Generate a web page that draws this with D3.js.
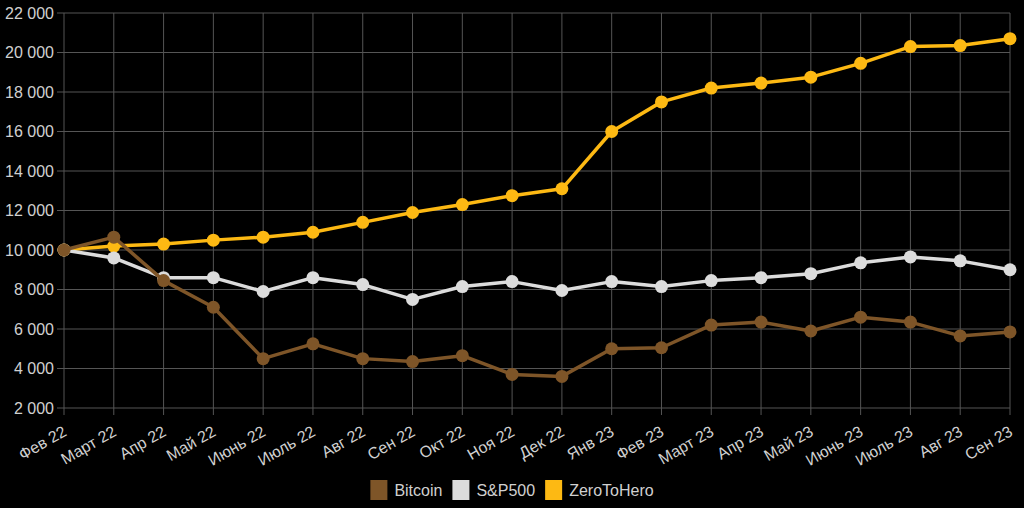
<!DOCTYPE html>
<html><head><meta charset="utf-8">
<script src="https://cdn.jsdelivr.net/npm/d3@7"></script>
<style>
html,body{margin:0;padding:0;background:#000;}
svg{display:block;font-family:"Liberation Sans",Arial,sans-serif;}
</style></head>
<body><svg id="c" width="1024" height="508"></svg>
<script>
const categories = ["Фев 22","Март 22","Апр 22","Май 22","Июнь 22","Июль 22","Авг 22","Сен 22","Окт 22","Ноя 22","Дек 22","Янв 23","Фев 23","Март 23","Апр 23","Май 23","Июнь 23","Июль 23","Авг 23","Сен 23"];
const bitcoin = [10000,10650,8450,7100,4500,5250,4500,4350,4650,3700,3600,5000,5050,6200,6350,5900,6600,6350,5650,5850];
const sp500 = [10000,9600,8600,8600,7900,8600,8250,7500,8150,8400,7950,8400,8150,8450,8600,8800,9350,9650,9450,9000];
const zeroToHero = [10000,10200,10300,10500,10650,10900,11400,11900,12300,12750,13100,16000,17500,18200,18450,18750,19450,20300,20350,20700];
const yTicks = [2000,4000,6000,8000,10000,12000,14000,16000,18000,20000,22000];
const seriesNames = ["Bitcoin","S&P500","ZeroToHero"];
const seriesColors = ["#7e5528","#dcdcdc","#fdb913"];

(function(){
const series = [bitcoin, sp500, zeroToHero];
const svg = d3.select("#c");
const mL = 64, mR = 1010, mT = 13, mB = 408;
const x = d3.scalePoint().domain(categories).range([mL, mR]);
const y = d3.scaleLinear().domain([2000, 22000]).range([mB, mT]);
const fmt = v => d3.format(",")(v).replace(/,/g, " ");
const gridColor = "#555";

svg.append("g").selectAll("line").data(yTicks).join("line")
  .attr("x1", mL - 7).attr("x2", mR)
  .attr("y1", d => y(d)).attr("y2", d => y(d))
  .attr("stroke", gridColor).attr("stroke-width", 1);
svg.append("g").selectAll("line").data(categories).join("line")
  .attr("x1", d => x(d)).attr("x2", d => x(d))
  .attr("y1", mT).attr("y2", mB + 7)
  .attr("stroke", gridColor).attr("stroke-width", 1);

svg.append("g").selectAll("text").data(yTicks).join("text")
  .attr("x", mL - 10).attr("y", d => y(d))
  .attr("text-anchor", "end").attr("dominant-baseline", "central")
  .attr("fill", "#d0d0d0").attr("font-size", 16)
  .text(fmt);

svg.append("g").selectAll("text").data(categories).join("text")
  .attr("transform", d => `translate(${x(d)-2},${mB + 17}) rotate(-30)`)
  .attr("text-anchor", "end").attr("dominant-baseline", "hanging")
  .attr("fill", "#d0d0d0").attr("font-size", 16)
  .text(d => d);

const line = d3.line().x((d, i) => x(categories[i])).y(d => y(d));
[2, 1, 0].forEach(k => {
  const s = series[k];
  const g = svg.append("g");
  g.append("path").datum(s).attr("d", line)
    .attr("fill", "none").attr("stroke", seriesColors[k]).attr("stroke-width", 3.5)
    .attr("stroke-linejoin", "round");
  g.selectAll("circle").data(s).join("circle")
    .attr("cx", (d, i) => x(categories[i])).attr("cy", d => y(d))
    .attr("r", 6.5).attr("fill", seriesColors[k]);
});

const items = [];
let cx = 0;
const tmp = svg.append("text").attr("font-size", 16);
seriesNames.forEach((n, i) => {
  tmp.text(n);
  const w = tmp.node().getComputedTextLength();
  items.push({n, c: seriesColors[i], x: cx, w});
  cx += 17 + 7 + w + 10;
});
tmp.remove();
const totalW = cx - 10;
const lx = 512 - totalW / 2;
const lg = svg.append("g").attr("transform", `translate(${lx},480)`);
items.forEach(it => {
  lg.append("rect").attr("x", it.x).attr("y", 0).attr("width", 17).attr("height", 20).attr("fill", it.c);
  lg.append("text").attr("x", it.x + 24).attr("y", 10).attr("dominant-baseline", "central")
    .attr("fill", "#d0d0d0").attr("font-size", 16).text(it.n);
});
})();
</script></body></html>
